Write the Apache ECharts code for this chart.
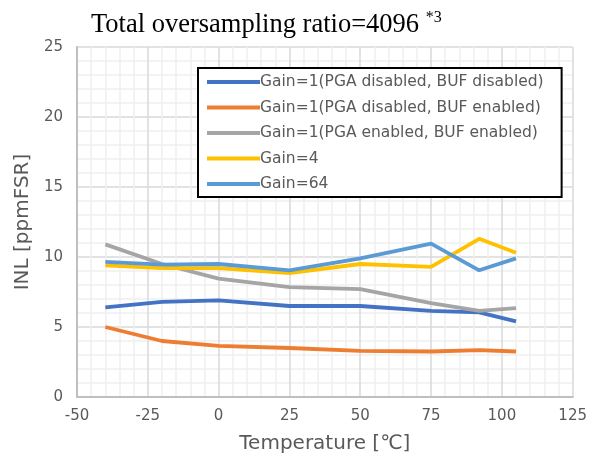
<!DOCTYPE html>
<html>
<head>
<meta charset="utf-8">
<script src="https://cdn.jsdelivr.net/npm/echarts@6/dist/echarts.min.js"></script>
<style>
html, body { margin: 0; padding: 0; background: #fff; }
#chart { width: 590px; height: 463px; }
</style>
</head>
<body>
<div id="chart"></div>
<script>
var temps = [-40, -20, 0, 25, 50, 75, 92, 105];
var seriesNames = [
    'Gain=1(PGA disabled, BUF disabled)',
    'Gain=1(PGA disabled, BUF enabled)',
    'Gain=1(PGA enabled, BUF enabled)',
    'Gain=4',
    'Gain=64'
];
var pgaOffBufOff = [6.4, 6.8, 6.9, 6.5, 6.5, 6.15, 6.05, 5.4];
var pgaOffBufOn = [5.0, 4.0, 3.65, 3.5, 3.3, 3.25, 3.35, 3.25];
var pgaOnBufOn = [10.9, 9.5, 8.45, 7.85, 7.7, 6.7, 6.15, 6.35];
var gain4 = [9.4, 9.2, 9.2, 8.85, 9.5, 9.3, 11.3, 10.3];
var gain64 = [9.65, 9.45, 9.5, 9.05, 9.9, 10.95, 9.05, 9.9];
var colors = ['#4472C4', '#ED7D31', '#A5A5A5', '#FFC000', '#5B9BD5'];

var allValues = [pgaOffBufOff, pgaOffBufOn, pgaOnBufOn, gain4, gain64];

function pairs(vals) {
    return temps.map(function (t, i) { return [t, vals[i]]; });
}

var series = allValues.map(function (vals, i) {
    return {
        name: seriesNames[i],
        type: 'line',
        data: pairs(vals),
        symbol: 'none',
        lineStyle: { width: 3.8, color: colors[i] },
        itemStyle: { color: colors[i] },
        z: 2
    };
});

var chart = echarts.init(document.getElementById('chart'));
var option = {
    animation: false,
    title: {
        text: '{main|Total oversampling ratio=4096 }{sup|*3}',
        left: 86,
        top: 5,
        textStyle: {
            fontWeight: 'normal',
            rich: {
                main: { fontFamily: 'Liberation Serif', fontSize: 26.5, fontWeight: 'normal', color: '#000' },
                sup: { fontFamily: 'Liberation Serif', fontSize: 16, fontWeight: 'normal', color: '#000', verticalAlign: 'top', padding: [0, 0, 14, 0] }
            }
        }
    },
    grid: { left: 77, right: 17, top: 47, bottom: 66 },
    legend: {
        orient: 'vertical',
        left: 198,
        top: 68,
        data: seriesNames,
        icon: 'rect',
        itemWidth: 53,
        itemHeight: 4,
        itemGap: 9.5,
        padding: [6, 18, 5, 9],
        backgroundColor: '#fff',
        borderColor: '#000',
        borderWidth: 2,
        textStyle: { fontFamily: 'DejaVu Sans', fontSize: 15.5, color: '#595959', padding: [0, 0, 0, -5] }
    },
    xAxis: {
        type: 'value',
        min: -50,
        max: 125,
        interval: 25,
        name: 'Temperature [℃]',
        nameLocation: 'middle',
        nameGap: 37,
        nameTextStyle: { fontFamily: 'DejaVu Sans', fontSize: 20, color: '#595959' },
        axisLine: { show: true, onZero: false, lineStyle: { color: '#BFBFBF', width: 2 } },
        axisTick: { show: false },
        axisLabel: { fontFamily: 'DejaVu Sans', fontSize: 15, color: '#595959', margin: 12 },
        splitLine: { show: true, lineStyle: { color: '#D9D9D9', width: 1.5 } },
        minorTick: { show: false, splitNumber: 5 },
        minorSplitLine: { show: true, lineStyle: { color: '#F0F0F0', width: 1.5 } }
    },
    yAxis: {
        type: 'value',
        min: 0,
        max: 25,
        interval: 5,
        name: 'INL [ppmFSR]',
        nameLocation: 'middle',
        nameGap: 38,
        nameTextStyle: { fontFamily: 'DejaVu Sans', fontSize: 20, color: '#595959' },
        axisLine: { show: true, onZero: false, lineStyle: { color: '#BFBFBF', width: 2 } },
        axisTick: { show: false },
        axisLabel: { fontFamily: 'DejaVu Sans', fontSize: 15, color: '#595959', margin: 14 },
        splitLine: { show: true, lineStyle: { color: '#D9D9D9', width: 1.5 } },
        minorTick: { show: false, splitNumber: 5 },
        minorSplitLine: { show: true, lineStyle: { color: '#F0F0F0', width: 1.5 } }
    },
    series: series
};
chart.setOption(option);
</script>
</body>
</html>
